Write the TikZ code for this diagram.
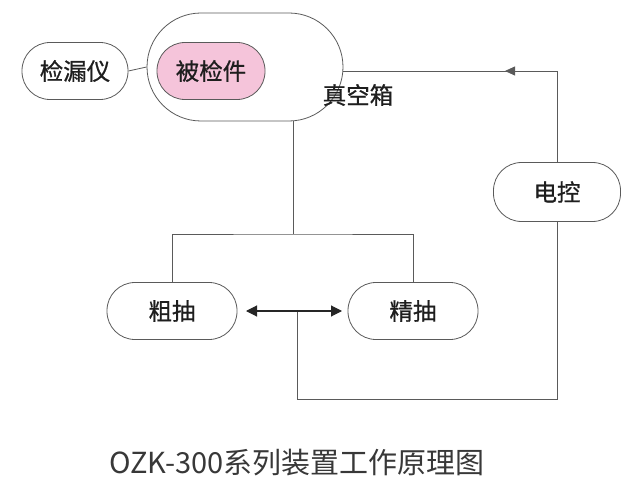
\documentclass[tikz,border=0pt]{standalone}
\usepackage{fontspec}
\setmainfont{Noto Sans CJK SC}
\newfontfamily\boxfont[FakeBold=0.8]{Noto Sans CJK SC}
\usetikzlibrary{arrows.meta}
\definecolor{ln}{HTML}{5A5A5A}
\definecolor{pinkfill}{HTML}{F5C4DA}
\definecolor{txt}{HTML}{1E1E1E}
\begin{document}
\begin{tikzpicture}[x=1pt,y=-1pt,
  pill/.style={draw=ln,line width=0.8pt,rounded corners=28pt,minimum height=57pt,inner sep=0pt,font=\boxfont\fontsize{23.5}{25}\selectfont,text=txt},
  wire/.style={draw=ln,line width=0.8pt},
  tip/.style={-{Triangle[length=10pt,width=9pt]}}]
\useasboundingbox (0,0) rectangle (632,492);
\node[pill,minimum width=196pt,minimum height=108pt,rounded corners=54pt] (box) at (245,67) {};
\node[pill,minimum width=106pt] (jly) at (75,71) {检漏仪};
\node[pill,minimum width=108pt,fill=pinkfill] (bjj) at (211,71) {被检件};
\node[font=\boxfont\fontsize{23.5}{25}\selectfont,text=txt,inner sep=0pt] (zkx) at (358,95) {真空箱};
\node[pill,minimum width=127pt,minimum height=59pt] (dk) at (557,192) {电控};
\node[pill,minimum width=130pt] (cc) at (172,311) {粗抽};
\node[pill,minimum width=130pt] (jc) at (413,311) {精抽};
\node[font=\fontsize{29}{31}\selectfont,text=black!78,inner sep=0pt] (cap) at (297,463) {OZK-300系列装置工作原理图};
\coordinate (tr) at (557,71);
\coordinate (mid) at (293,234);
\coordinate (br) at (557,399);
\coordinate (bl) at (297,399);
\coordinate (am) at (297,311);
\draw[wire] (jly.east) -- (box.west);
\draw[wire] (box.east |- tr) -- (tr) -- (dk.north);
\draw[wire,tip] (tr) -- (505,71);
\draw[wire] (dk.south) -- (br) -- (bl) -- (am);
\draw[wire] (box.south -| mid) -- (mid);
\draw[wire] (cc.north) |- (mid) -| (jc.north);
\draw[wire,line width=1.1pt,draw=black!85,{Triangle[length=11pt,width=11pt]}-{Triangle[length=11pt,width=11pt]}] (246,311) -- (342,311);
\end{tikzpicture}
\end{document}
